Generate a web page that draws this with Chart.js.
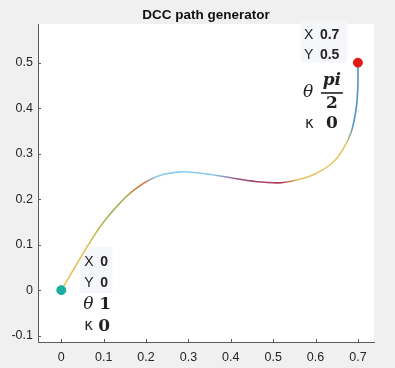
<!DOCTYPE html>
<html>
<head>
<meta charset="utf-8">
<script src="https://cdn.jsdelivr.net/npm/chart.js@4/dist/chart.umd.min.js"></script>
<style>
html,body{margin:0;padding:0;background:#f0f0f0;}
#wrap{width:395px;height:368px;}
</style>
</head>
<body>
<div id="wrap"><canvas id="c" width="395" height="368"></canvas></div>
<script>
// ---- data ----
const pathX = [0, 0.03, 0.06, 0.092, 0.125, 0.155, 0.18, 0.21, 0.24, 0.28, 0.32, 0.36, 0.40, 0.44, 0.48, 0.52, 0.56, 0.60, 0.64, 0.665, 0.685, 0.696, 0.70, 0.70];
const pathY = [0, 0.047, 0.094, 0.14, 0.178, 0.207, 0.226, 0.243, 0.254, 0.26, 0.258, 0.253, 0.247, 0.241, 0.237, 0.236, 0.243, 0.256, 0.28, 0.31, 0.35, 0.40, 0.45, 0.50];
const startPoint = {x: 0, y: 0};
const endPoint = {x: 0.7, y: 0.5};
const xTicks = [0, 0.1, 0.2, 0.3, 0.4, 0.5, 0.6, 0.7];
const yTicks = [-0.1, 0, 0.1, 0.2, 0.3, 0.4, 0.5];
const titleText = 'DCC path generator';
const startLabels = {X: '0', Y: '0', theta: '1', kappa: '0'};
const endLabels = {X: '0.7', Y: '0.5', thetaNum: 'pi', thetaDen: '2', kappa: '0'};

// ---- style ----
const gradStops = [
  [0.00, '#e8c45a'], [0.06, '#e2c258'], [0.12, '#98b24e'], [0.15, '#a3a84a'],
  [0.19, '#d8703e'], [0.225, '#86cde8'], [0.36, '#86cde8'], [0.42, '#9a4c7c'],
  [0.52, '#b0384f'], [0.56, '#e8c462'], [0.672, '#e8c462'], [0.69, '#4f93c8'], [0.72, '#4f93c8']
];

const pathData = pathX.map((x, i) => ({x, y: pathY[i]}));

const bgPlugin = {
  id: 'bg',
  beforeDraw(chart) {
    const {ctx, chartArea: a} = chart;
    ctx.save();
    ctx.fillStyle = '#f0f0f0';
    ctx.fillRect(0, 0, chart.width, chart.height);
    ctx.fillStyle = '#ffffff';
    ctx.fillRect(a.left, a.top, a.right - a.left, a.bottom - a.top);
    ctx.restore();
  },
  afterDraw(chart) {
    const {ctx, chartArea: a, scales} = chart;
    ctx.save();
    // title
    ctx.fillStyle = '#111';
    ctx.font = 'bold 13.5px "Liberation Sans", Arial, sans-serif';
    ctx.textAlign = 'center';
    ctx.textBaseline = 'middle';
    ctx.fillText(titleText, (a.left + a.right) / 2, 15);
    // inward ticks
    ctx.strokeStyle = '#5a5a5a';
    ctx.lineWidth = 1;
    ctx.beginPath();
    xTicks.forEach(v => {
      const px = Math.round(scales.x.getPixelForValue(v)) + 0.5;
      ctx.moveTo(px, a.bottom); ctx.lineTo(px, a.bottom - 3);
    });
    yTicks.forEach(v => {
      const py = Math.round(scales.y.getPixelForValue(v)) + 0.5;
      ctx.moveTo(a.left, py); ctx.lineTo(a.left + 3, py);
    });
    ctx.stroke();
    ctx.restore();
  }
};

const annoPlugin = {
  id: 'anno',
  beforeDatasetsDraw(chart) {
    const {ctx, scales} = chart;
    const sx = scales.x.getPixelForValue(startPoint.x);
    const sy = scales.y.getPixelForValue(startPoint.y);
    const ex = scales.x.getPixelForValue(endPoint.x);
    const ey = scales.y.getPixelForValue(endPoint.y);
    ctx.save();
    ctx.fillStyle = '#f5f6fa';
    ctx.fillRect(sx + 19, sy - 43, 32, 46);
    ctx.fillRect(ex - 57, ey - 42, 46, 42);
    ctx.restore();
  },
  afterDatasetsDraw(chart) {
    const {ctx, scales} = chart;
    const sx = scales.x.getPixelForValue(startPoint.x);
    const sy = scales.y.getPixelForValue(startPoint.y);
    const ex = scales.x.getPixelForValue(endPoint.x);
    const ey = scales.y.getPixelForValue(endPoint.y);
    const lab = '14px "Liberation Sans", Arial, sans-serif';
    const val = 'bold 14px "Liberation Sans", Arial, sans-serif';
    const serif = 'bold 17px "DejaVu Serif", "Liberation Serif", serif';
    const serifI = 'italic 17px "DejaVu Serif", "Liberation Serif", serif';
    ctx.save();
    ctx.textBaseline = 'middle';
    ctx.textAlign = 'left';
    ctx.fillStyle = '#222';
    // start annotation
    ctx.font = lab; ctx.fillText('X', sx + 23, sy - 28);
    ctx.font = val; ctx.fillText(startLabels.X, sx + 39, sy - 28);
    ctx.font = lab; ctx.fillText('Y', sx + 23, sy - 7);
    ctx.font = val; ctx.fillText(startLabels.Y, sx + 39, sy - 7);
    ctx.font = serifI; ctx.fillText('θ', sx + 22, sy + 14);
    ctx.font = serif; ctx.fillText(startLabels.theta, sx + 38, sy + 14);
    ctx.font = '15px "DejaVu Sans", sans-serif'; ctx.fillText('κ', sx + 23, sy + 36);
    ctx.font = serif; ctx.fillText(startLabels.kappa, sx + 37, sy + 36);
    // end annotation
    ctx.font = lab; ctx.fillText('X', ex - 54, ey - 28);
    ctx.font = val; ctx.fillText(endLabels.X, ex - 38, ey - 28);
    ctx.font = lab; ctx.fillText('Y', ex - 54, ey - 8);
    ctx.font = val; ctx.fillText(endLabels.Y, ex - 38, ey - 8);
    ctx.font = serifI; ctx.fillText('θ', ex - 55, ey + 30);
    ctx.textAlign = 'center';
    ctx.font = 'bold italic 17px "DejaVu Serif", "Liberation Serif", serif';
    ctx.fillText(endLabels.thetaNum, ex - 26, ey + 18);
    ctx.fillRect(ex - 37, ey + 29.5, 22, 1.6);
    ctx.font = serif; ctx.fillText(endLabels.thetaDen, ex - 26, ey + 41);
    ctx.textAlign = 'left';
    ctx.font = '15px "DejaVu Sans", sans-serif'; ctx.fillText('κ', ex - 53, ey + 61);
    ctx.font = serif; ctx.fillText(endLabels.kappa, ex - 32, ey + 61);
    ctx.restore();
  }
};

new Chart(document.getElementById('c'), {
  type: 'scatter',
  data: {
    datasets: [
      {
        data: pathData,
        showLine: true,
        tension: 0.35,
        pointRadius: 0,
        borderWidth: 1.6,
        borderColor(ctx) {
          const chart = ctx.chart;
          const {chartArea, scales} = chart;
          if (!chartArea) return '#86cde8';
          const x0 = scales.x.getPixelForValue(0);
          const x1 = scales.x.getPixelForValue(0.72);
          const g = chart.ctx.createLinearGradient(x0, 0, x1, 0);
          gradStops.forEach(([v, c]) => g.addColorStop(v / 0.72, c));
          return g;
        },
        order: 2
      },
      {
        data: [startPoint],
        pointRadius: 4.5,
        pointBackgroundColor: '#1aae9e',
        pointBorderColor: '#1aae9e',
        order: 1
      },
      {
        data: [endPoint],
        pointRadius: 4.5,
        pointBackgroundColor: '#e01a14',
        pointBorderColor: '#e01a14',
        order: 1
      }
    ]
  },
  options: {
    responsive: false,
    animation: false,
    events: [],
    layout: {padding: {top: 24, right: 21, left: 0, bottom: 0}},
    plugins: {legend: {display: false}, tooltip: {enabled: false}, title: {display: false}},
    scales: {
      x: {
        type: 'linear',
        min: -0.055, max: 0.738,
        afterBuildTicks(axis) { axis.ticks = xTicks.map(v => ({value: v})); },
        afterFit(s) { s.height = 26; },
        grid: {drawOnChartArea: false, drawTicks: false},
        border: {display: true, color: '#5a5a5a', width: 1},
        ticks: {
          padding: 8,
          color: '#262626',
          font: {family: '"Liberation Sans", Arial, sans-serif', size: 12.5},
          callback: v => String(Math.round(v * 10) / 10)
        }
      },
      y: {
        type: 'linear',
        min: -0.114, max: 0.585,
        afterBuildTicks(axis) { axis.ticks = yTicks.map(v => ({value: v})); },
        afterFit(s) { s.width = 38; },
        grid: {drawOnChartArea: false, drawTicks: false},
        border: {display: true, color: '#5a5a5a', width: 1},
        ticks: {
          padding: 5,
          color: '#262626',
          font: {family: '"Liberation Sans", Arial, sans-serif', size: 12.5},
          callback: v => String(Math.round(v * 10) / 10)
        }
      }
    }
  },
  plugins: [bgPlugin, annoPlugin]
});
</script>
</body>
</html>
